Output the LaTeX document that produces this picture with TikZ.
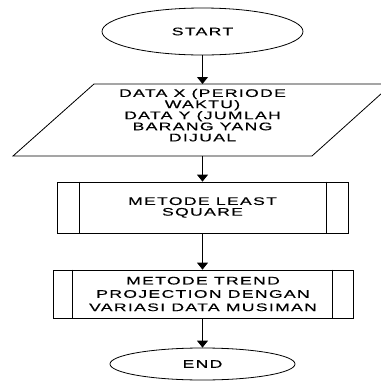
\documentclass[tikz,border=0pt]{standalone}
\usepackage{fontspec}
\setmainfont{Liberation Sans}[FakeStretch=1.6,LetterSpace=12,FakeBold=0.4]
\usetikzlibrary{shapes.geometric,arrows.meta,calc}
\begin{document}
\begin{tikzpicture}[x=1pt,y=-1pt,line width=0.8pt,
  term/.style={draw,ellipse,inner sep=0pt,font=\fontsize{11}{12}\selectfont},
  proc/.style={draw,rectangle,inner sep=0pt,align=center},
  txt/.style={align=center,inner sep=0pt},
  flow/.style={-{Triangle[length=7pt,width=11pt]}}]
\useasboundingbox (0,0) rectangle (381,381);
\clip (0,0) rectangle (381,381);
% start
\node[term,minimum width=201pt,minimum height=47pt] (start) at (202.5,31.5) {START};
% data (parallelogram)
\draw (94,84) -- (392,84) -- (312,156) -- (13,156) -- cycle;
\coordinate (datatop) at (202.5,84);
\coordinate (databot) at (202.5,156);
\node[txt,font=\fontsize{11}{11.1}\selectfont] (data) at (202.5,115.2)
  {DATA X (PERIODE\\WAKTU)\\DATA Y (JUMLAH\\BARANG YANG\\DIJUAL};
% process 1
\node[proc,minimum width=291pt,minimum height=51pt,font=\fontsize{11}{10.7}\selectfont] (p1) at (202.5,207.5)
  {METODE LEAST\\SQUARE};
\draw ($(p1.north west)+(23,0)$) -- ($(p1.south west)+(23,0)$);
\draw ($(p1.north east)+(-22,0)$) -- ($(p1.south east)+(-22,0)$);
% process 2
\node[proc,minimum width=300pt,minimum height=48pt,font=\fontsize{11}{13.3}\selectfont] (p2) at (203,294)
  {METODE TREND\\PROJECTION DENGAN\\VARIASI DATA MUSIMAN};
\draw ($(p2.north west)+(20,0)$) -- ($(p2.south west)+(20,0)$);
\draw ($(p2.north east)+(-21,0)$) -- ($(p2.south east)+(-21,0)$);
% end
\node[term,minimum width=185pt,minimum height=32pt] (end) at (202.5,364) {END};
% connectors
\draw[flow] (start.south) -- (datatop);
\draw[flow] (databot) -- (p1.north -| databot);
\draw[flow] (p1.south -| databot) -- (p2.north -| databot);
\draw[flow] (p2.south -| databot) -- (end.north);
\end{tikzpicture}
\end{document}
